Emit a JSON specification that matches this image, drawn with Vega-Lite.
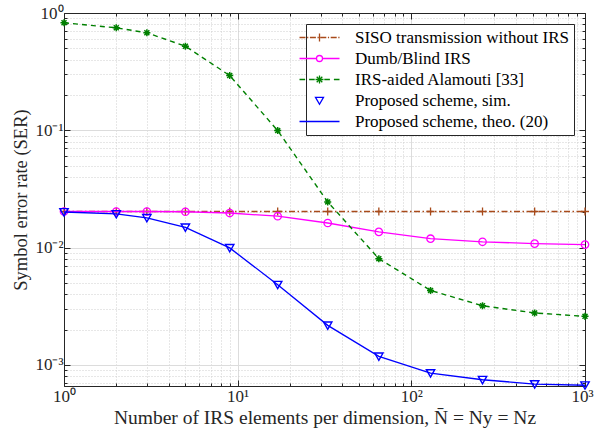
{
  "$schema": "https://vega.github.io/schema/vega-lite/v6.json",
  "autosize": "none",
  "width": 521,
  "height": 373,
  "padding": {"left": 64, "top": 13, "right": 10, "bottom": 52},
  "background": "white",
  "config": {
    "view": {"stroke": "#262626", "strokeWidth": 1},
    "font": "Liberation Serif, Times New Roman, serif"
  },
  "data": {
    "values": [
      {"series": "SISO", "N": 1, "ser": 0.0203},
      {"series": "SISO", "N": 2, "ser": 0.0203},
      {"series": "SISO", "N": 3, "ser": 0.0203},
      {"series": "SISO", "N": 5, "ser": 0.0203},
      {"series": "SISO", "N": 9, "ser": 0.0203},
      {"series": "SISO", "N": 17, "ser": 0.0203},
      {"series": "SISO", "N": 33, "ser": 0.0203},
      {"series": "SISO", "N": 65, "ser": 0.0203},
      {"series": "SISO", "N": 129, "ser": 0.0203},
      {"series": "SISO", "N": 257, "ser": 0.0203},
      {"series": "SISO", "N": 513, "ser": 0.0203},
      {"series": "SISO", "N": 1000, "ser": 0.0203},
      {"series": "Dumb", "N": 1, "ser": 0.0203},
      {"series": "Dumb", "N": 2, "ser": 0.0203},
      {"series": "Dumb", "N": 3, "ser": 0.0203},
      {"series": "Dumb", "N": 5, "ser": 0.0202},
      {"series": "Dumb", "N": 9, "ser": 0.0197},
      {"series": "Dumb", "N": 17, "ser": 0.0185},
      {"series": "Dumb", "N": 33, "ser": 0.0162},
      {"series": "Dumb", "N": 65, "ser": 0.0136},
      {"series": "Dumb", "N": 129, "ser": 0.0119},
      {"series": "Dumb", "N": 257, "ser": 0.0112},
      {"series": "Dumb", "N": 513, "ser": 0.0108},
      {"series": "Dumb", "N": 1000, "ser": 0.0106},
      {"series": "Alamouti", "N": 1, "ser": 0.825},
      {"series": "Alamouti", "N": 2, "ser": 0.748},
      {"series": "Alamouti", "N": 3, "ser": 0.678},
      {"series": "Alamouti", "N": 5, "ser": 0.521},
      {"series": "Alamouti", "N": 9, "ser": 0.293},
      {"series": "Alamouti", "N": 17, "ser": 0.0994},
      {"series": "Alamouti", "N": 33, "ser": 0.0245},
      {"series": "Alamouti", "N": 65, "ser": 0.00804},
      {"series": "Alamouti", "N": 129, "ser": 0.00431},
      {"series": "Alamouti", "N": 257, "ser": 0.00319},
      {"series": "Alamouti", "N": 513, "ser": 0.00277},
      {"series": "Alamouti", "N": 1000, "ser": 0.00259},
      {"series": "Proposed", "N": 1, "ser": 0.0201},
      {"series": "Proposed", "N": 2, "ser": 0.01935},
      {"series": "Proposed", "N": 3, "ser": 0.0179},
      {"series": "Proposed", "N": 5, "ser": 0.01486},
      {"series": "Proposed", "N": 9, "ser": 0.00993},
      {"series": "Proposed", "N": 17, "ser": 0.00482},
      {"series": "Proposed", "N": 33, "ser": 0.00217},
      {"series": "Proposed", "N": 65, "ser": 0.00118},
      {"series": "Proposed", "N": 129, "ser": 0.000851},
      {"series": "Proposed", "N": 257, "ser": 0.000746},
      {"series": "Proposed", "N": 513, "ser": 0.000686},
      {"series": "Proposed", "N": 1000, "ser": 0.00067}
    ]
  },
  "resolve": {"axis": {"x": "independent", "y": "independent"}},
  "layer": [
    {
      "transform": [{"filter": "datum.series == 'SISO'"}],
      "mark": {"type": "line", "color": "#A84A1A", "strokeWidth": 1.4, "strokeDash": [6, 2.5, 1.5, 2.5]},
      "encoding": {
        "x": {"field": "N", "type": "quantitative",
          "scale": {"type": "log", "domain": [1, 1000], "nice": false},
          "axis": {
            "orient": "bottom",
            "values": [1,2,3,4,5,6,7,8,9,10,20,30,40,50,60,70,80,90,100,200,300,400,500,600,700,800,900,1000],
            "labelExpr": "abs(log(datum.value)/LN10 - round(log(datum.value)/LN10)) < 0.001 ? '10' + ['⁻³','⁻²','⁻¹','⁰','¹','²','³'][round(log(datum.value)/LN10)+3] : ''",
            "labelOverlap": false, "labelFlush": false,
            "labelAlign": {"condition": {"test": "datum.value >= 999", "value": "right"}, "value": "center"},
            "labelOffset": {"condition": {"test": "datum.value >= 999", "value": 8}, "value": 0},
            "labelFont": "Liberation Serif, Times New Roman, serif", "labelFontSize": 17, "labelColor": "#262626", "labelPadding": 8,
            "grid": true,
            "gridColor": {"condition": {"test": "abs(log(datum.value)/LN10 - round(log(datum.value)/LN10)) < 0.001", "value": "#dcdcdc"}, "value": "#cfcfcf"},
            "gridDash": {"condition": {"test": "abs(log(datum.value)/LN10 - round(log(datum.value)/LN10)) < 0.001", "value": []}, "value": [1, 2]},
            "tickSize": {"condition": {"test": "abs(log(datum.value)/LN10 - round(log(datum.value)/LN10)) < 0.001", "value": -6}, "value": -3},
            "tickColor": "#262626", "domainColor": "#262626",
            "title": "Number of IRS elements per dimension,  N̄  =  Ny  =  Nz",
            "titleFont": "Liberation Serif, Times New Roman, serif", "titleFontSize": 19.5, "titleFontWeight": "normal", "titleColor": "#262626", "titlePadding": 1
          }
        },
        "y": {"field": "ser", "type": "quantitative",
          "scale": {"type": "log", "domain": [0.00066, 1], "nice": false},
          "axis": {
            "orient": "left",
            "values": [0.0007,0.0008,0.0009,0.001,0.002,0.003,0.004,0.005,0.006,0.007,0.008,0.009,0.01,0.02,0.03,0.04,0.05,0.06,0.07,0.08,0.09,0.1,0.2,0.3,0.4,0.5,0.6,0.7,0.8,0.9,1],
            "labelExpr": "abs(log(datum.value)/LN10 - round(log(datum.value)/LN10)) < 0.001 ? '10' + ['⁻³','⁻²','⁻¹','⁰','¹','²','³'][round(log(datum.value)/LN10)+3] : ''",
            "labelOverlap": false, "labelFlush": false,
            "labelFont": "Liberation Serif, Times New Roman, serif", "labelFontSize": 17, "labelColor": "#262626", "labelPadding": 7,
            "grid": true,
            "gridColor": {"condition": {"test": "abs(log(datum.value)/LN10 - round(log(datum.value)/LN10)) < 0.001", "value": "#dcdcdc"}, "value": "#cfcfcf"},
            "gridDash": {"condition": {"test": "abs(log(datum.value)/LN10 - round(log(datum.value)/LN10)) < 0.001", "value": []}, "value": [1, 2]},
            "tickSize": {"condition": {"test": "abs(log(datum.value)/LN10 - round(log(datum.value)/LN10)) < 0.001", "value": -6}, "value": -3},
            "tickColor": "#262626", "domainColor": "#262626",
            "title": "Symbol error rate (SER)",
            "titleFont": "Liberation Serif, Times New Roman, serif", "titleFontSize": 18.5, "titleFontWeight": "normal", "titleColor": "#262626", "titlePadding": 4
          }
        }
      }
    },
    {
      "transform": [{"filter": "datum.series == 'SISO'"}],
      "mark": {"type": "point", "shape": "M-1,0H1M0,-1V1", "filled": false, "color": "#A84A1A", "size": 64, "strokeWidth": 1.3, "opacity": 1},
      "encoding": {
        "x": {"field": "N", "type": "quantitative", "axis": null},
        "y": {"field": "ser", "type": "quantitative", "axis": null}
      }
    },
    {
      "transform": [{"filter": "datum.series == 'Dumb'"}],
      "mark": {"type": "line", "color": "#FF00FF", "strokeWidth": 1.3},
      "encoding": {
        "x": {"field": "N", "type": "quantitative", "axis": null},
        "y": {"field": "ser", "type": "quantitative", "axis": null}
      }
    },
    {
      "transform": [{"filter": "datum.series == 'Dumb'"}],
      "mark": {"type": "point", "shape": "circle", "filled": false, "color": "#FF00FF", "size": 55, "strokeWidth": 1.3, "opacity": 1},
      "encoding": {
        "x": {"field": "N", "type": "quantitative", "axis": null},
        "y": {"field": "ser", "type": "quantitative", "axis": null}
      }
    },
    {
      "transform": [{"filter": "datum.series == 'Alamouti'"}],
      "mark": {"type": "line", "color": "#008000", "strokeWidth": 1.4, "strokeDash": [5, 4]},
      "encoding": {
        "x": {"field": "N", "type": "quantitative", "axis": null},
        "y": {"field": "ser", "type": "quantitative", "axis": null}
      }
    },
    {
      "transform": [{"filter": "datum.series == 'Alamouti'"}],
      "mark": {"type": "point", "shape": "M-1,0H1M0,-1V1M-0.7,-0.7L0.7,0.7M-0.7,0.7L0.7,-0.7", "filled": false, "color": "#008000", "size": 50, "strokeWidth": 1.5, "opacity": 1},
      "encoding": {
        "x": {"field": "N", "type": "quantitative", "axis": null},
        "y": {"field": "ser", "type": "quantitative", "axis": null}
      }
    },
    {
      "transform": [{"filter": "datum.series == 'Proposed'"}],
      "mark": {"type": "line", "color": "#0000FF", "strokeWidth": 1.3},
      "encoding": {
        "x": {"field": "N", "type": "quantitative", "axis": null},
        "y": {"field": "ser", "type": "quantitative", "axis": null}
      }
    },
    {
      "transform": [{"filter": "datum.series == 'Proposed'"}],
      "mark": {"type": "point", "shape": "M-1,-0.8L1,-0.8L0,0.95Z", "filled": false, "color": "#0000FF", "size": 70, "strokeWidth": 1.4, "opacity": 1},
      "encoding": {
        "x": {"field": "N", "type": "quantitative", "axis": null},
        "y": {"field": "ser", "type": "quantitative", "axis": null}
      }
    },
    {
      "transform": [{"filter": "datum.series == 'none'"}],
      "mark": {"type": "point", "filled": false, "strokeWidth": 1.3, "opacity": 1},
      "encoding": {
        "x": {"field": "N", "type": "quantitative",
          "axis": {"orient": "top", "labels": false, "grid": false, "title": null, "domainColor": "#262626", "tickColor": "#262626",
            "values": [1,2,3,4,5,6,7,8,9,10,20,30,40,50,60,70,80,90,100,200,300,400,500,600,700,800,900,1000],
            "tickSize": {"condition": {"test": "abs(log(datum.value)/LN10 - round(log(datum.value)/LN10)) < 0.001", "value": -6}, "value": -3}}},
        "y": {"field": "ser", "type": "quantitative",
          "axis": {"orient": "right", "labels": false, "grid": false, "title": null, "domainColor": "#262626", "tickColor": "#262626",
            "values": [0.0007,0.0008,0.0009,0.001,0.002,0.003,0.004,0.005,0.006,0.007,0.008,0.009,0.01,0.02,0.03,0.04,0.05,0.06,0.07,0.08,0.09,0.1,0.2,0.3,0.4,0.5,0.6,0.7,0.8,0.9,1],
            "tickSize": {"condition": {"test": "abs(log(datum.value)/LN10 - round(log(datum.value)/LN10)) < 0.001", "value": -6}, "value": -3}}},
        "color": {"field": "series", "type": "nominal",
          "scale": {
            "domain": ["SISO transmission without IRS", "Dumb/Blind IRS", "IRS-aided Alamouti [33]", "Proposed scheme, sim.", "Proposed scheme, theo. (20)"],
            "range": ["#A84A1A", "#FF00FF", "#008000", "#0000FF", "#0000FF"]
          },
          "legend": {
            "title": null, "orient": "top-right", "offset": 11,
            "labelFont": "Liberation Serif, Times New Roman, serif", "labelFontSize": 17, "labelColor": "#000000", "labelLimit": 400,
            "strokeColor": "#262626", "fillColor": "white", "padding": 5,
            "symbolSize": 64, "symbolStrokeWidth": 1.3, "labelOffset": 27, "rowPadding": 3, "symbolFillColor": "transparent"
          }
        },
        "shape": {"field": "series", "type": "nominal",
          "scale": {
            "domain": ["SISO transmission without IRS", "Dumb/Blind IRS", "IRS-aided Alamouti [33]", "Proposed scheme, sim.", "Proposed scheme, theo. (20)"],
            "range": [
              "M-5,0H-3.5M-3.1,0H-2.8M-2.4,0H-0.9M-0.5,0H-0.2M0.2,0H1.7M2.1,0H2.4M2.8,0H4.3M4.7,0H5M0,-1V1",
              "M-5,0H-0.75M0.75,0H5M-0.75,0A0.75,0.75 0 1,0 0.75,0A0.75,0.75 0 1,0 -0.75,0",
              "M-5,0H-3.6M-2.6,0H-1.2M1.2,0H2.6M3.6,0H5M-1,0H1M0,-1V1M-0.7,-0.7L0.7,0.7M-0.7,0.7L0.7,-0.7",
              "M-1,-0.8L1,-0.8L0,0.95Z",
              "M-5,0H5"
            ]
          },
          "legend": {
            "title": null, "orient": "top-right", "offset": 11,
            "labelFont": "Liberation Serif, Times New Roman, serif", "labelFontSize": 17, "labelColor": "#000000", "labelLimit": 400,
            "strokeColor": "#262626", "fillColor": "white", "padding": 5,
            "symbolSize": 64, "symbolStrokeWidth": 1.3, "labelOffset": 27, "rowPadding": 3, "symbolFillColor": "transparent"
          }
        }
      }
    }
  ]
}
